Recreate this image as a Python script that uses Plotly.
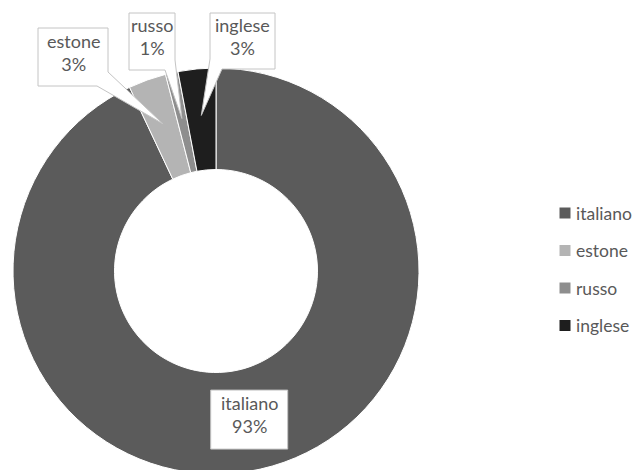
import math
import plotly.graph_objects as go

# ---- data ----
categories = ["italiano", "estone", "russo", "inglese"]
values = [93, 3, 1, 3]
colors = ["#5b5b5b", "#b4b4b4", "#8e8e8e", "#1e1e1e"]

# ---- layout constants (screen pixels) ----
W, H = 640, 470
OFF = 8  # page body margin: the figure is drawn 8px right/down
CX, CY, R = 216, 271, 203
HOLE = 0.5
TEXT_COLOR = "#595959"
BORDER = "#c4c4c4"
FONT = "Lato"

# callout boxes (x0, y0, x1, y1) and outline vertices with the pointer tip inserted
callouts = {
    "estone": dict(box=(38, 28, 108, 86),
                   path=[(38, 28), (108, 28), (108, 72), "tip", (97, 86), (38, 86)]),
    "russo": dict(box=(129, 13, 175, 70),
                  path=[(129, 13), (175, 13), (175, 60), "tip", (165, 70), (129, 70)]),
    "inglese": dict(box=(210, 13, 275, 69),
                    path=[(210, 13), (275, 13), (275, 69), (222, 69), "tip", (210, 59)]),
}
ITALIANO_BOX = (77, 59)  # width, height of the box centred on the slice
TIP_R = 0.77
LABEL_R = 0.75

# legend placement
LEG_SQ_X, LEG_TXT_X, LEG_Y0, LEG_DY = 565, 574, 213, 37.5

pcx, pcy = CX - OFF, CY - OFF  # centre in figure pixels
fig = go.Figure()
fig.add_trace(go.Pie(
    labels=categories, values=values, sort=False, direction="clockwise", rotation=0,
    hole=HOLE, marker=dict(colors=colors, line=dict(color="white", width=1)),
    textinfo="none", hoverinfo="label+percent", showlegend=False,
    domain=dict(x=[(pcx - R) / W, (pcx + R) / W],
                y=[max(0, (H - pcy - R) / H), min(1, (H - pcy + R) / H)]),
))

total = sum(values)
cum = 0
shapes = []
annotations = []
for cat, v in zip(categories, values):
    frac = (cum + v / 2) / total
    cum += v
    th = 2 * math.pi * frac
    pct = f"{round(100 * v / total)}%"
    if cat in callouts:
        c = callouts[cat]
        tx = CX + TIP_R * R * math.sin(th)
        ty = CY - TIP_R * R * math.cos(th)
        pts = [(tx, ty) if p == "tip" else p for p in c["path"]]
        path = "M " + " L ".join(f"{x:.1f},{y:.1f}" for x, y in pts) + " Z"
        shapes.append(dict(type="path", path=path, xref="x", yref="y", layer="above",
                           fillcolor="white", line=dict(color=BORDER, width=1)))
        x0, y0, x1, y1 = c["box"]
        bx, by = (x0 + x1) / 2, (y0 + y1) / 2
    else:
        bx = CX + LABEL_R * R * math.sin(th)
        by = CY - LABEL_R * R * math.cos(th)
        w, h = ITALIANO_BOX
        shapes.append(dict(type="rect", x0=bx - w / 2, x1=bx + w / 2, y0=by - h / 2, y1=by + h / 2,
                           xref="x", yref="y", layer="above",
                           fillcolor="white", line=dict(color=BORDER, width=1)))
    annotations.append(dict(x=bx, y=by, xref="x", yref="y", text=f"{cat}<br>{pct}", yshift=5,
                            showarrow=False, font=dict(family=FONT, size=18, color=TEXT_COLOR)))

# legend (squares + labels)
leg_y = [LEG_Y0 + i * LEG_DY for i in range(len(categories))]
fig.add_trace(go.Scatter(
    x=[LEG_SQ_X] * len(categories), y=leg_y, mode="markers", showlegend=False,
    hoverinfo="skip", marker=dict(symbol="square", size=11, color=colors),
))
for cat, y in zip(categories, leg_y):
    annotations.append(dict(x=LEG_TXT_X, y=y, xref="x", yref="y", text=cat, xanchor="left",
                            yanchor="middle", showarrow=False,
                            font=dict(family=FONT, size=17.5, color=TEXT_COLOR)))

fig.update_layout(
    width=W, height=H, margin=dict(l=0, r=0, t=0, b=0),
    paper_bgcolor="white", plot_bgcolor="rgba(0,0,0,0)",
    # axis ranges in screen pixels so that shapes and labels line up with the page
    xaxis=dict(range=[OFF, W + OFF], visible=False, fixedrange=True, domain=[0, 1]),
    yaxis=dict(range=[H + OFF, OFF], visible=False, fixedrange=True, domain=[0, 1]),
    shapes=shapes, annotations=annotations, showlegend=False,
)

fig.write_html("out.html")
